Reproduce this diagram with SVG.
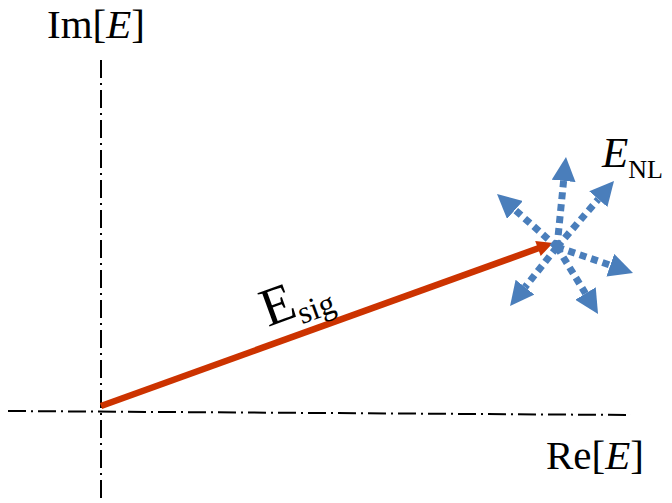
<svg xmlns="http://www.w3.org/2000/svg" width="672" height="503" viewBox="0 0 672 503">
<style>
.axis{stroke:#000;stroke-width:2;stroke-dasharray:18 5 2 5;fill:none}
.lbl{font-family:"Liberation Serif","Times New Roman",serif;fill:#000}
.nl{stroke:#4a7ebb;stroke-width:7;stroke-dasharray:7 5;fill:none;marker-end:url(#bh)}
</style>
<defs>
<marker id="bh" markerUnits="userSpaceOnUse" viewBox="0 0 24 24" markerWidth="24" markerHeight="24" refX="0" refY="12" orient="auto">
<path d="M0,0 L24,12 L0,24 z" fill="#4a7ebb"/>
</marker>
</defs>
<rect width="672" height="503" fill="#fff"/>
<g id="axes">
<line class="axis" x1="101" y1="60" x2="101" y2="503"/>
<line class="axis" x1="8" y1="411" x2="631" y2="415"/>
</g>
<g id="label-im"><text class="lbl" x="47" y="38" font-size="41">Im[<tspan font-style="italic">E</tspan>]</text></g>
<g id="label-re"><text class="lbl" x="546" y="469" font-size="41">Re[<tspan font-style="italic">E</tspan>]</text></g>
<g id="connectors">
<g id="esig-vector">
<line x1="101" y1="406" x2="539" y2="248" stroke="#cc3300" stroke-width="6.5"/>
<polygon points="553,243 535.2,240.9 540.7,256" fill="#cc3300"/>
</g>
<g id="enl-vectors">
<line class="nl" x1="557" y1="247" x2="563.6" y2="180.9"/>
<line class="nl" x1="557" y1="247" x2="598.3" y2="199.2"/>
<line class="nl" x1="557" y1="247" x2="515" y2="209.9"/>
<line class="nl" x1="557" y1="247" x2="610.3" y2="265.2"/>
<line class="nl" x1="557" y1="247" x2="585.5" y2="293.5"/>
<line class="nl" x1="557" y1="247" x2="525" y2="287.2"/>
</g>
</g>
<g id="label-esig"><text class="lbl" font-size="54" transform="translate(268,327) rotate(-20)">E<tspan font-size="32" dy="9">sig</tspan></text></g>
<g id="label-enl"><text class="lbl" x="602" y="167" font-size="43"><tspan font-style="italic">E</tspan><tspan font-size="26" dy="11">NL</tspan></text></g>
</svg>
